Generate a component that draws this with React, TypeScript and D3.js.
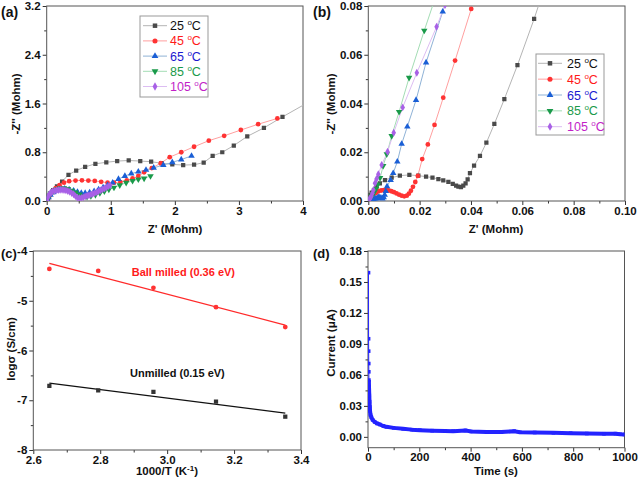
import { useEffect, useRef } from 'react'
import * as d3 from 'd3'

type Pt = [number, number]

const FONT = '"Liberation Sans", Arial, Helvetica, sans-serif'

// (a) Nyquist plots, Z' vs -Z'' (Mohm)
const tempLabels = ['25', '45', '65', '85', '105']

const nyqA25: Pt[] = [
  [0.01, 0.04], [0.03, 0.09], [0.06, 0.13], [0.1, 0.18], [0.16, 0.24], [0.24, 0.32], [0.34, 0.43],
  [0.46, 0.5], [0.6, 0.56], [0.76, 0.61], [0.93, 0.635], [1.1, 0.655], [1.28, 0.665], [1.46, 0.655],
  [1.63, 0.645], [1.79, 0.62], [1.96, 0.6], [2.13, 0.59], [2.3, 0.595], [2.45, 0.63], [2.59, 0.74],
  [2.74, 0.8], [2.92, 0.91], [3.13, 1.06], [3.39, 1.2], [3.68, 1.38], [4.1, 1.63],
]
const nyqA45: Pt[] = [
  [0.02, 0.03], [0.05, 0.09], [0.09, 0.15], [0.14, 0.21], [0.2, 0.26], [0.27, 0.3], [0.35, 0.325],
  [0.45, 0.335], [0.55, 0.34], [0.65, 0.335], [0.75, 0.33], [0.85, 0.315], [0.95, 0.3], [1.05, 0.3],
  [1.15, 0.31], [1.25, 0.34], [1.34, 0.37], [1.43, 0.41], [1.52, 0.47], [1.64, 0.54], [1.78, 0.62],
  [1.92, 0.72], [2.1, 0.8], [2.3, 0.89], [2.53, 0.99], [2.77, 1.07], [3.03, 1.165], [3.3, 1.26], [3.6, 1.355],
]
const nyqA65: Pt[] = [
  [0.01, 0.02], [0.03, 0.06], [0.06, 0.1], [0.1, 0.14], [0.15, 0.17], [0.21, 0.19], [0.28, 0.2],
  [0.35, 0.19], [0.42, 0.17], [0.48, 0.15], [0.54, 0.13], [0.6, 0.13], [0.67, 0.14], [0.74, 0.16],
  [0.81, 0.19], [0.88, 0.22], [0.95, 0.26], [1.03, 0.3], [1.12, 0.36], [1.22, 0.41], [1.32, 0.45],
  [1.43, 0.48], [1.55, 0.51], [1.67, 0.545], [1.82, 0.59], [1.96, 0.635], [2.1, 0.68], [2.26, 0.74],
]
const nyqA85: Pt[] = [
  [0.01, 0.02], [0.03, 0.07], [0.06, 0.12], [0.1, 0.16], [0.15, 0.19], [0.21, 0.21], [0.27, 0.21],
  [0.33, 0.2], [0.39, 0.17], [0.45, 0.14], [0.51, 0.11], [0.57, 0.08], [0.63, 0.07], [0.69, 0.08],
  [0.76, 0.1], [0.83, 0.13], [0.9, 0.16], [0.97, 0.19], [1.05, 0.22], [1.14, 0.26], [1.24, 0.3],
  [1.34, 0.33], [1.43, 0.355], [1.52, 0.37], [1.62, 0.41],
]
const nyqA105: Pt[] = [
  [0.005, 0.01], [0.01, 0.04], [0.02, 0.07], [0.035, 0.1], [0.05, 0.12], [0.07, 0.14], [0.09, 0.155],
  [0.12, 0.165], [0.15, 0.175], [0.18, 0.18], [0.21, 0.185], [0.24, 0.185], [0.27, 0.18], [0.3, 0.175],
  [0.33, 0.165], [0.36, 0.15], [0.39, 0.13], [0.42, 0.11], [0.45, 0.08], [0.48, 0.055], [0.51, 0.045],
  [0.54, 0.05], [0.57, 0.06], [0.6, 0.075], [0.63, 0.085], [0.66, 0.095], [0.69, 0.105], [0.72, 0.12],
  [0.75, 0.13], [0.78, 0.145], [0.81, 0.16], [0.84, 0.175], [0.87, 0.19], [0.9, 0.205], [0.93, 0.22],
  [0.96, 0.24], [0.99, 0.255],
]

// (b) high-frequency region
const nyqB25: Pt[] = [
  [0.0007, 0.0025], [0.0013, 0.0034], [0.0022, 0.0045], [0.0032, 0.0059], [0.0045, 0.0072], [0.0065, 0.0086],
  [0.0091, 0.0096], [0.0123, 0.0104], [0.016, 0.0107], [0.0195, 0.0104], [0.0225, 0.01], [0.025, 0.0096],
  [0.0273, 0.009], [0.0292, 0.0085], [0.0312, 0.0078], [0.0329, 0.007], [0.0342, 0.0063], [0.0351, 0.0059],
  [0.0361, 0.0057], [0.037, 0.0063], [0.0379, 0.0072], [0.0387, 0.0089], [0.0396, 0.0114], [0.0412, 0.0145],
  [0.0435, 0.0185], [0.046, 0.0239], [0.0491, 0.0316], [0.053, 0.0418], [0.0581, 0.0557], [0.0646, 0.0747],
  [0.0672, 0.083],
]
const nyqB45: Pt[] = [
  [0.0005, 0.0005], [0.001, 0.0015], [0.002, 0.0025], [0.003, 0.0033], [0.004, 0.004], [0.005, 0.0043],
  [0.006, 0.0045], [0.007, 0.0045], [0.008, 0.0043], [0.009, 0.004], [0.01, 0.0036], [0.011, 0.0031],
  [0.012, 0.0026], [0.013, 0.0022], [0.014, 0.0019], [0.015, 0.0022], [0.0158, 0.003], [0.0166, 0.0042],
  [0.0174, 0.0058], [0.0183, 0.0078], [0.0193, 0.0103], [0.021, 0.0172], [0.0232, 0.0232], [0.0258, 0.0312],
  [0.0292, 0.0424], [0.0338, 0.0576], [0.0401, 0.0788],
]
const nyqB65: Pt[] = [
  [0.0005, 0.0003], [0.001, 0.0005], [0.002, 0.0008], [0.0025, 0.001], [0.003, 0.001], [0.0035, 0.0012],
  [0.004, 0.0015], [0.0045, 0.0015], [0.005, 0.0012], [0.0055, 0.001], [0.006, 0.0015], [0.0064, 0.0025],
  [0.0068, 0.004], [0.0073, 0.006], [0.0087, 0.0086], [0.0097, 0.0114], [0.0113, 0.0161], [0.013, 0.0234],
  [0.0152, 0.0305], [0.0186, 0.0414], [0.0225, 0.0568], [0.029, 0.0777], [0.0315, 0.086],
]
const nyqB85: Pt[] = [
  [0.0003, 0.0005], [0.0008, 0.0012], [0.0013, 0.002], [0.0018, 0.0028], [0.0024, 0.0038], [0.003, 0.005],
  [0.0037, 0.0068], [0.0046, 0.0095], [0.0058, 0.0144], [0.0072, 0.0192], [0.0091, 0.0267], [0.012, 0.0366],
  [0.0159, 0.0506], [0.0218, 0.0699], [0.0255, 0.0815],
]
const nyqB105: Pt[] = [
  [0.0002, 0.0003], [0.0005, 0.0008], [0.0008, 0.0013], [0.0012, 0.002], [0.0016, 0.0032], [0.002, 0.0045],
  [0.0026, 0.0073], [0.0032, 0.009], [0.0039, 0.011], [0.0052, 0.0148], [0.0075, 0.0202], [0.0099, 0.028],
  [0.0134, 0.0384], [0.0189, 0.0526], [0.0266, 0.0715], [0.0299, 0.0804],
]

// (c) Arrhenius
const invT = [2.648, 2.794, 2.959, 3.146, 3.353]
const logSigmaMilled = [-4.36, -4.4, -4.74, -5.13, -5.53]
const logSigmaUnmilled = [-6.71, -6.8, -6.83, -7.03, -7.33]

// (d) DC polarisation
const timeSec = [
  2, 2.3, 2.6, 2.9, 3.2, 3.5, 4, 5, 6, 7, 8, 10, 13, 18, 26, 35, 46, 60, 72, 100, 137, 170, 202, 250,
  300, 332, 380, 400, 462, 520, 570, 592, 650, 723, 790, 853, 920, 965, 983, 1000,
]
const currentUA = [
  0.159, 0.095, 0.083, 0.071, 0.063, 0.055, 0.048, 0.04, 0.034, 0.029, 0.025, 0.021, 0.019, 0.0165,
  0.0145, 0.013, 0.012, 0.0105, 0.0097, 0.0087, 0.0078, 0.007, 0.0065, 0.006, 0.0057, 0.0055, 0.0062,
  0.0053, 0.0048, 0.0046, 0.0055, 0.0045, 0.0042, 0.0039, 0.0036, 0.0032, 0.003, 0.0031, 0.0026, 0.0023,
]

const markerColors = ['#4a4a4a', '#ff3333', '#1a5fd6', '#1a9a4a', '#a860e6']
const lineColors = ['#b4b4b4', '#ff9f9f', '#8fb2d6', '#a3dcb4', '#dcbdf2']
const textColors = ['#111111', '#ff1a1a', '#1a1ad0', '#1a9a4a', '#c21fc8']

interface Box { l: number; r: number; t: number; b: number }

function symbolPath(i: number, size: number) {
  const types = [d3.symbolSquare, d3.symbolCircle, d3.symbolTriangle, d3.symbolTriangle, d3.symbolDiamond]
  return d3.symbol().type(types[i]).size(size)() || ''
}

function drawMarker(g: any, i: number, cx: number, cy: number, size: number) {
  g.append('path')
    .attr('d', symbolPath(i, size))
    .attr('transform', `translate(${cx},${cy})${i === 3 ? ' rotate(180)' : ''}`)
    .attr('fill', markerColors[i])
}

function drawAxes(
  g: any, box: Box, x: any, y: any,
  xMajor: number[], xMinor: number[], yMajor: number[], yMinor: number[],
  xFmt: (d: number) => string, yFmt: (d: number) => string,
) {
  const bottom = g.append('g').attr('transform', `translate(0,${box.b})`)
  bottom.append('g').call(d3.axisBottom(x).tickValues(xMinor).tickSize(2.5).tickFormat(() => ''))
  bottom.append('g').call(d3.axisBottom(x).tickValues(xMajor).tickSize(4).tickPadding(1.5).tickFormat(xFmt as any))
  const left = g.append('g').attr('transform', `translate(${box.l},0)`)
  left.append('g').call(d3.axisLeft(y).tickValues(yMinor).tickSize(2.5).tickFormat(() => ''))
  left.append('g').call(d3.axisLeft(y).tickValues(yMajor).tickSize(4).tickPadding(2).tickFormat(yFmt as any))

  g.selectAll('.domain').remove()
  g.selectAll('.tick line').attr('stroke', '#333')
  g.selectAll('.tick text')
    .attr('font-family', FONT)
    .attr('font-size', 11.5)
    .attr('font-weight', 'bold')
    .attr('fill', '#111')

  g.append('rect')
    .attr('x', box.l).attr('y', box.t)
    .attr('width', box.r - box.l).attr('height', box.b - box.t)
    .attr('fill', 'none').attr('stroke', '#555').attr('stroke-width', 1)
}

function clipGroup(svg: any, id: string, box: Box) {
  svg.append('clipPath').attr('id', id)
    .append('rect').attr('x', box.l).attr('y', box.t)
    .attr('width', box.r - box.l).attr('height', box.b - box.t)
  return svg.append('g').attr('clip-path', `url(#${id})`)
}

function drawSeries(g: any, data: Pt[][], x: any, y: any, size: number) {
  const line = d3.line<Pt>().x(d => x(d[0])).y(d => y(d[1]))
  data.forEach((pts, i) => {
    g.append('path').attr('d', line(pts)).attr('fill', 'none')
      .attr('stroke', lineColors[i]).attr('stroke-width', 1)
  })
  data.forEach((pts, i) => {
    pts.forEach(p => drawMarker(g, i, x(p[0]), y(p[1]), size))
  })
}

function drawLegend(svg: any, bx: number, by: number, bw: number, bh: number, row0: number, step: number, lx1: number, lx2: number, tx: number) {
  const g = svg.append('g')
  g.append('rect').attr('x', bx).attr('y', by).attr('width', bw).attr('height', bh)
    .attr('fill', '#fff').attr('stroke', '#999').attr('stroke-width', 1)
  tempLabels.forEach((t, i) => {
    const cy = row0 + i * step
    g.append('line').attr('x1', lx1).attr('x2', lx2).attr('y1', cy).attr('y2', cy)
      .attr('stroke', lineColors[i]).attr('stroke-width', 1)
    drawMarker(g, i, (lx1 + lx2) / 2, cy, 20)
    const txt = g.append('text').attr('x', tx).attr('y', cy + 4.5)
      .attr('font-family', FONT).attr('font-size', 12.5).attr('fill', textColors[i])
    txt.append('tspan').text(`${t} `)
    txt.append('tspan').attr('font-size', 8).attr('dy', -5).text('o')
    txt.append('tspan').attr('dy', 5).text('C')
  })
}

function boldText(svg: any, x: number, y: number, s: string, opts: { rotate?: boolean; size?: number; anchor?: string; fill?: string } = {}) {
  const t = svg.append('text')
    .attr('font-family', FONT).attr('font-weight', 'bold')
    .attr('font-size', opts.size ?? 11.5)
    .attr('text-anchor', opts.anchor ?? 'middle')
    .attr('fill', opts.fill ?? '#111')
  if (opts.rotate) t.attr('transform', `translate(${x},${y}) rotate(-90)`)
  else t.attr('x', x).attr('y', y)
  t.text(s)
  return t
}

export default function App() {
  const svgRef = useRef<SVGSVGElement>(null)

  useEffect(() => {
    if (!svgRef.current) return
    const svg = d3.select(svgRef.current)
    svg.selectAll('*').remove()

    // ---------- (a) ----------
    const boxA: Box = { l: 46.7, r: 303, t: 6, b: 201 }
    const xA = d3.scaleLinear().domain([0, 4]).range([boxA.l, boxA.r])
    const yA = d3.scaleLinear().domain([0, 3.2]).range([boxA.b, boxA.t])
    drawAxes(svg.append('g'), boxA, xA, yA,
      [0, 1, 2, 3, 4], d3.range(0.5, 4, 1), [0, 0.8, 1.6, 2.4, 3.2], d3.range(0.4, 3.2, 0.8),
      d => d3.format('d')(d), d => d3.format('.1f')(d))
    drawSeries(clipGroup(svg, 'clipA', boxA), [nyqA25, nyqA45, nyqA65, nyqA85, nyqA105], xA, yA, 18)
    drawLegend(svg, 140, 16, 68, 81, 25.7, 15.2, 143, 167, 170)
    boldText(svg, 175, 233, "Z' (Mohm)")
    boldText(svg, 20, 104, "-Z'' (Mohm)", { rotate: true })
    boldText(svg, 1, 17, '(a)', { size: 14, anchor: 'start' })

    // ---------- (b) ----------
    const boxB: Box = { l: 368.3, r: 625, t: 6, b: 201 }
    const xB = d3.scaleLinear().domain([0, 0.1]).range([boxB.l, boxB.r])
    const yB = d3.scaleLinear().domain([0, 0.08]).range([boxB.b, boxB.t])
    drawAxes(svg.append('g'), boxB, xB, yB,
      d3.range(0, 0.1001, 0.02), d3.range(0.01, 0.1, 0.02), d3.range(0, 0.0801, 0.02), d3.range(0.01, 0.08, 0.02),
      d => d3.format('.2f')(d), d => d3.format('.2f')(d))
    drawSeries(clipGroup(svg, 'clipB', boxB), [nyqB25, nyqB45, nyqB65, nyqB85, nyqB105], xB, yB, 18)
    drawLegend(svg, 536, 54, 68, 81, 63.3, 15.85, 538, 562, 567)
    boldText(svg, 496, 233, "Z' (Mohm)")
    boldText(svg, 335, 104, "-Z'' (Mohm)", { rotate: true })
    boldText(svg, 313, 17, '(b)', { size: 14, anchor: 'start' })

    // ---------- (c) ----------
    const boxC: Box = { l: 33.3, r: 301, t: 251, b: 450 }
    const xC = d3.scaleLinear().domain([2.6, 3.4]).range([boxC.l, boxC.r])
    const yC = d3.scaleLinear().domain([-8, -4]).range([boxC.b, boxC.t])
    drawAxes(svg.append('g'), boxC, xC, yC,
      [2.6, 2.8, 3.0, 3.2, 3.4], [2.7, 2.9, 3.1, 3.3], [-8, -7, -6, -5, -4], [-7.5, -6.5, -5.5, -4.5],
      d => d.toFixed(1), d => String(d))
    const gC = clipGroup(svg, 'clipC', boxC)
    const arr: { ys: number[]; color: string; fit: string; sym: number }[] = [
      { ys: logSigmaMilled, color: '#ff3333', fit: '#ff2a2a', sym: 1 },
      { ys: logSigmaUnmilled, color: '#333333', fit: '#111111', sym: 0 },
    ]
    arr.forEach(s => {
      // least-squares Arrhenius fit
      const mx = d3.mean(invT) as number
      const my = d3.mean(s.ys) as number
      const slope = d3.sum(invT.map((v, i) => (v - mx) * (s.ys[i] - my))) / d3.sum(invT.map(v => (v - mx) ** 2))
      const x0 = invT[0], x1 = invT[invT.length - 1]
      gC.append('line')
        .attr('x1', xC(x0)).attr('y1', yC(my + slope * (x0 - mx)))
        .attr('x2', xC(x1)).attr('y2', yC(my + slope * (x1 - mx)))
        .attr('stroke', s.fit).attr('stroke-width', 1.3)
      invT.forEach((v, i) => {
        gC.append('path')
          .attr('d', symbolPath(s.sym, 18))
          .attr('transform', `translate(${xC(v)},${yC(s.ys[i])})`)
          .attr('fill', s.color)
      })
    })
    boldText(svg, 131.7, 276, 'Ball milled (0.36 eV)', { size: 11, anchor: 'start', fill: '#ff1a1a' })
    boldText(svg, 130, 377, 'Unmilled (0.15 eV)', { size: 11, anchor: 'start' })
    const lblC = boldText(svg, 167, 475, '1000/T (K')
    lblC.append('tspan').attr('font-size', 8).attr('dy', -4).text('-1')
    lblC.append('tspan').attr('dy', 4).text(')')
    boldText(svg, 15, 349, 'log\u03c3 (S/cm)', { rotate: true })
    boldText(svg, 1, 258, '(c)', { size: 13, anchor: 'start' })

    // ---------- (d) ----------
    const boxD: Box = { l: 368, r: 624.5, t: 251, b: 447.7 }
    const xD = d3.scaleLinear().domain([0, 1000]).range([boxD.l, boxD.r])
    const yD = d3.scaleLinear().domain([-0.0105, 0.18]).range([boxD.b, boxD.t])
    drawAxes(svg.append('g'), boxD, xD, yD,
      d3.range(0, 1001, 200), d3.range(100, 1000, 200), d3.range(0, 0.1801, 0.03), d3.range(0.015, 0.18, 0.03),
      d => String(d), d => d3.format('.2f')(d))
    const gD = clipGroup(svg, 'clipD', boxD)
    const ptsD: Pt[] = timeSec.map((t, i) => [t, currentUA[i]])
    const lineD = d3.line<Pt>().x(d => xD(d[0])).y(d => yD(d[1]))
    gD.append('path').attr('d', lineD(ptsD)).attr('fill', 'none').attr('stroke', '#2323ff').attr('stroke-width', 1)
    gD.append('path').attr('d', lineD(ptsD.filter(p => p[1] < 0.06)))
      .attr('fill', 'none').attr('stroke', '#2323ff').attr('stroke-width', 4).attr('stroke-linejoin', 'round')
    ptsD.forEach(p => {
      gD.append('rect').attr('x', xD(p[0]) - 1.8).attr('y', yD(p[1]) - 1.8)
        .attr('width', 3.6).attr('height', 3.6).attr('fill', '#2323ff')
    })
    boldText(svg, 496, 475, 'Time (s)')
    boldText(svg, 335, 343, 'Current (\u03bcA)', { rotate: true })
    boldText(svg, 313, 258, '(d)', { size: 13, anchor: 'start' })
  }, [])

  return (
    <svg
      ref={svgRef}
      width={638}
      height={481}
      style={{ position: 'absolute', left: 0, top: 0, background: '#fff' }}
    />
  )
}
